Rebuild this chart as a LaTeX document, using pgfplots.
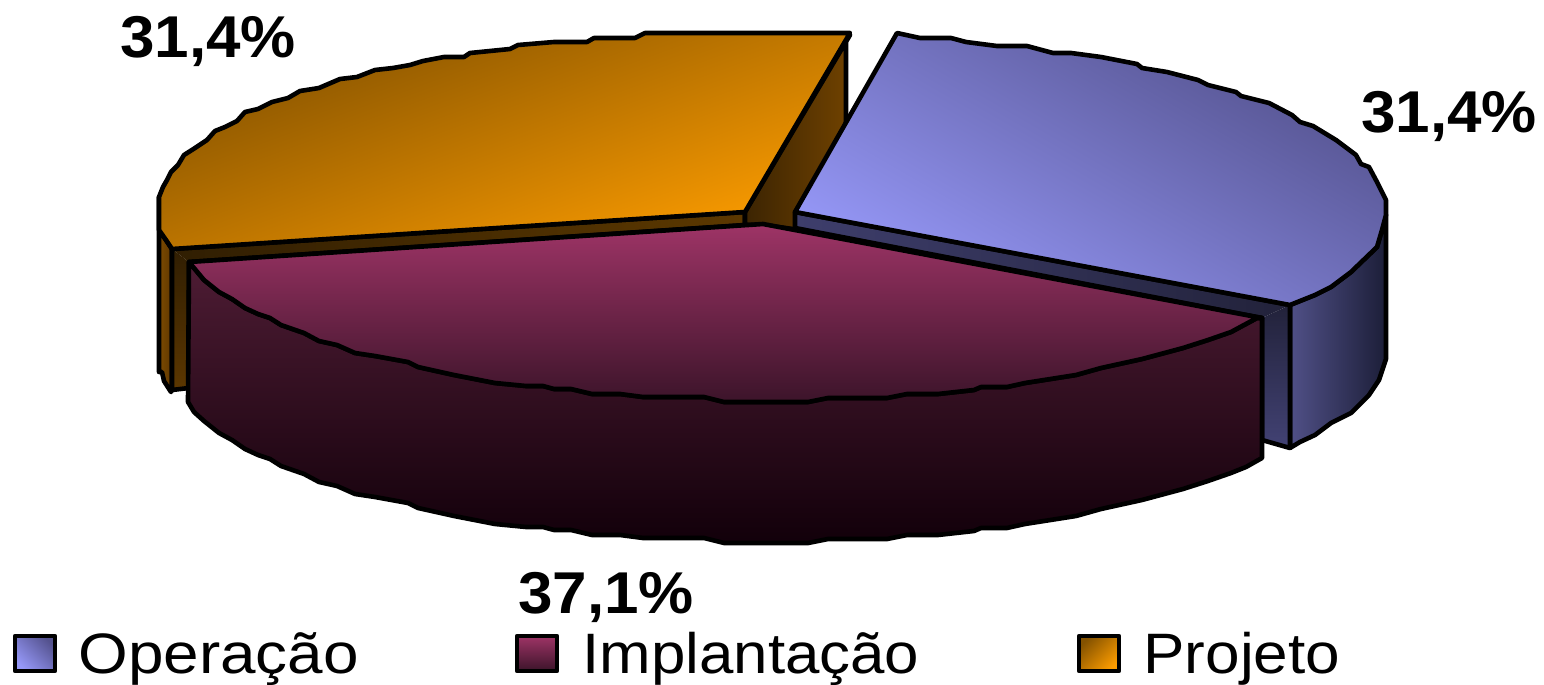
\documentclass[border=0pt]{standalone}
\usepackage{pgfplots}
\pgfplotsset{compat=1.18}
\usepackage{fontspec}
\setmainfont{Liberation Sans}
\definecolor{obr}{RGB}{252,156,0}
\definecolor{odk}{RGB}{132,82,0}
\definecolor{bli}{RGB}{150,152,248}
\definecolor{bdk}{RGB}{84,82,142}
\definecolor{cli}{RGB}{158,52,102}
\definecolor{cmd}{RGB}{60,20,42}
\definecolor{cside}{RGB}{78,28,52}
\definecolor{cbot}{RGB}{18,0,10}
\begin{document}
\begin{tikzpicture}
\path[use as bounding box] (0,0) rectangle (772pt,342.5pt);
\begin{axis}[at={(0,0)},anchor=south west,scale only axis,width=772pt,height=342.5pt,
  xmin=0,xmax=1544,ymin=0,ymax=685,y dir=reverse,hide axis,clip=false]
\pgfplotsset{every axis plot/.append style={draw=black,line width=2.3pt,line join=round,mark=none}}
% Projeto: outer side
\addplot[left color={rgb,255:red,125;green,75;blue,0},right color={rgb,255:red,95;green,55;blue,0}] coordinates {(159,197)(159,372)(162,372)(164,381)(171,392)(172,390)(172,249)(166,240)(159,230)} --cycle;
% Projeto: cut faces (fills, then one outline)
\addplot[draw=none,top color={rgb,255:red,48;green,30;blue,2},bottom color={rgb,255:red,92;green,55;blue,0}] coordinates {(172,249)(189,262)(189,388)(172,390)} --cycle;
\addplot[draw=none,left color={rgb,255:red,48;green,30;blue,2},right color={rgb,255:red,92;green,56;blue,0}] coordinates {(172,249)(745,212)(745,225)(189,262)} --cycle;
\addplot[fill=none] coordinates {(172,249)(745,212)(745,225)(189,262)(189,388)(172,390)} --cycle;
\addplot[left color={rgb,255:red,60;green,36;blue,2},right color={rgb,255:red,112;green,66;blue,0}] coordinates {(745,212)(850,35)(846,40)(846,125)(800,230)(763,225)(745,225)} --cycle;
% Projeto: top
\addplot[top color=odk,bottom color=obr,shading angle=20] coordinates {(159,197)(163,187)(167,180)(171,172)(178,165)(184,155)(195,148)(207,140)(215,131)(225,127)(237,121)(245,112)(258,109)(272,102)(288,98)(300,91)(319,88)(340,79)(357,77)(375,70)(393,68)(410,65)(423,61)(444,57)(464,57)(470,53)(510,49)(518,45)(554,42)(587,42)(594,38)(635,38)(645,33)(850,33)(745,212)(172,249)(166,240)(159,230)} --cycle;
% Operacao: outer side
\addplot[left color={rgb,255:red,80;green,80;blue,135},right color={rgb,255:red,28;green,30;blue,56}] coordinates {(1290,305)(1315,295)(1331,287)(1351,272)(1377,247)(1382,230)(1386,215)(1386,359)(1379,380)(1369,395)(1351,413)(1331,423)(1315,435)(1300,442)(1290,448)} --cycle;
% Operacao: cut faces (fills, then one outline)
\addplot[draw=none,top color={rgb,255:red,34;green,34;blue,58},bottom color={rgb,255:red,66;green,66;blue,116}] coordinates {(1262,318)(1290,305)(1290,448)(1262,440)} --cycle;
\addplot[draw=none,left color={rgb,255:red,62;green,62;blue,108},right color={rgb,255:red,34;green,34;blue,58}] coordinates {(795,212)(1290,305)(1262,318)(795,228)} --cycle;
\addplot[fill=none] coordinates {(795,212)(1290,305)(1290,448)(1262,440)(1262,318)(795,228)} --cycle;
% Operacao: top
\addplot[top color=bdk,bottom color=bli,shading angle=-30] coordinates {(795,212)(897,33)(920,38)(951,38)(966,42)(997,46)(1027,46)(1053,53)(1071,53)(1101,57)(1137,64)(1142,68)(1167,72)(1198,80)(1208,85)(1236,92)(1241,96)(1269,103)(1292,115)(1300,122)(1313,126)(1336,140)(1356,155)(1361,164)(1369,167)(1377,182)(1386,200)(1386,215)(1382,230)(1377,247)(1351,272)(1331,287)(1315,295)(1290,305)} --cycle;
% Implantacao: side
\addplot[top color=cside,bottom color=cbot] coordinates {(189,262)(204,280)(219,292)(232,299)(245,308)(258,314)(270,318)(281,325)(304,333)(319,341)(337,345)(355,353)(375,356)(408,362)(418,367)(454,375)(495,383)(526,386)(543,386)(554,389)(571,389)(592,394)(620,394)(643,397)(704,397)(724,402)(808,402)(828,398)(887,398)(907,394)(938,394)(974,390)(981,387)(1007,387)(1025,383)(1076,375)(1101,368)(1142,359)(1183,348)(1208,340)(1231,332)(1257,318)(1262,318)(1262,458)(1246,467)(1231,473)(1208,481)(1183,489)(1142,500)(1101,509)(1076,516)(1025,524)(1007,528)(981,528)(974,531)(938,535)(907,535)(887,539)(828,539)(808,543)(724,543)(704,538)(643,538)(620,535)(592,535)(571,530)(554,530)(543,527)(526,527)(495,524)(454,516)(418,508)(408,503)(375,497)(355,494)(337,486)(319,482)(304,474)(281,466)(270,459)(258,455)(245,449)(232,440)(219,433)(204,421)(194,412)(188,402)} --cycle;
% Implantacao: top
\addplot[top color=cli,bottom color=cmd] coordinates {(189,262)(763,224)(1262,318)(1257,318)(1231,332)(1208,340)(1183,348)(1142,359)(1101,368)(1076,375)(1025,383)(1007,387)(981,387)(974,390)(938,394)(907,394)(887,398)(828,398)(808,402)(724,402)(704,397)(643,397)(620,394)(592,394)(571,389)(554,389)(543,386)(526,386)(495,383)(454,375)(418,367)(408,362)(375,356)(355,353)(337,345)(319,341)(304,333)(281,325)(270,318)(258,314)(245,308)(232,299)(219,292)(204,280)} --cycle;
% Legend swatches
\addplot[top color=bdk,bottom color=bli,shading angle=-45] coordinates {(15,636)(55,636)(55,671)(15,671)} --cycle;
\addplot[top color=cli,bottom color=cmd] coordinates {(517,636)(557,636)(557,671)(517,671)} --cycle;
\addplot[top color=odk,bottom color=obr,shading angle=45] coordinates {(1079,636)(1119,636)(1119,671)(1079,671)} --cycle;
% Labels
\node[anchor=base west,inner sep=0pt,xscale=1.05,font=\fontsize{29.5}{29.5}\selectfont\bfseries] at (axis cs:120,57) {31,4\%};
\node[anchor=base west,inner sep=0pt,xscale=1.05,font=\fontsize{29.5}{29.5}\selectfont\bfseries] at (axis cs:1361,132) {31,4\%};
\node[anchor=base west,inner sep=0pt,xscale=1.05,font=\fontsize{29.5}{29.5}\selectfont\bfseries] at (axis cs:518,613) {37,1\%};
\node[anchor=base west,inner sep=0pt,xscale=1.12,font=\fontsize{28.5}{28.5}\selectfont] at (axis cs:78,673) {Operação};
\node[anchor=base west,inner sep=0pt,xscale=1.085,font=\fontsize{28.5}{28.5}\selectfont] at (axis cs:582,673) {Implantação};
\node[anchor=base west,inner sep=0pt,xscale=1.089,font=\fontsize{28.5}{28.5}\selectfont] at (axis cs:1143,673) {Projeto};
\end{axis}
\end{tikzpicture}
\end{document}
